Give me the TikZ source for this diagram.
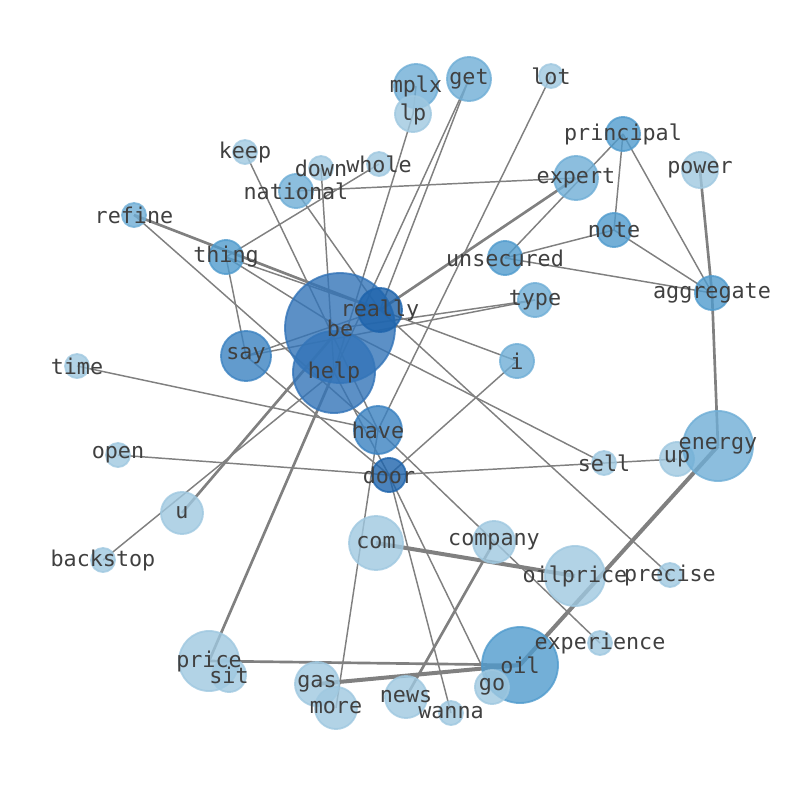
\documentclass[tikz,border=0pt]{standalone}
\usepackage{fontspec}
\setmonofont{DejaVu Sans Mono}

\definecolor{blueA}{RGB}{159,200,224}
\definecolor{blueB}{RGB}{111,174,214}
\definecolor{blueC}{RGB}{80,155,205}
\definecolor{blueD}{RGB}{59,130,193}
\definecolor{blueE}{RGB}{51,116,184}
\definecolor{blueF}{RGB}{30,100,172}

\begin{document}
\begin{tikzpicture}[x=0.75pt, y=-0.75pt,
  edge/.style={draw=gray, line width=1.1pt},
  heavy/.style={draw=gray, line width=2pt},
  heaviest/.style={draw=gray, line width=3pt},
  bubble/.style={circle, inner sep=0pt, minimum size=#1*1.5pt, line width=1.4pt, opacity=.8},
  word/.style={font=\ttfamily\fontsize{16.3}{18}\selectfont, text=black!75, inner sep=0pt}]

  % Canvas
  \useasboundingbox (0,0) rectangle (794,790);

  % Word list: name/x/y/radius/colour
  \def\wordlist{be/340/328/55/blueE, help/334/372/41/blueE, really/380/310/22/blueF,
    say/246/356/25/blueD, thing/226/257/17/blueC, refine/134/215/12/blueB,
    keep/245/152/12/blueA, down/321/168/12/blueA, whole/379/164/12/blueA,
    national/296/191/17/blueB, mplx/416/86/22/blueB, lp/413/114/18/blueA,
    get/469/79/22/blueB, lot/551/76/12/blueA, principal/623/134/17/blueC,
    power/700/170/18/blueA, expert/576/178/22/blueB, note/614/230/17/blueC,
    unsecured/505/258/17/blueC, type/535/300/17/blueB, aggregate/712/293/17/blueC,
    i/517/361/17/blueB, time/77/366/12/blueA, have/378/430/24/blueD,
    door/389/475/17/blueF, open/118/455/12/blueA, sell/604/463/12/blueA,
    up/677/459/17/blueA, energy/718/446/35/blueB, u/182/513/21/blueA,
    backstop/103/560/12/blueA, com/376/543/27/blueA, company/494/542/21/blueA,
    oilprice/575/576/30/blueA, precise/670/575/12/blueA, experience/600/643/12/blueA,
    oil/520/665/38/blueC, go/492/687/17/blueA, news/406/697/21/blueA,
    wanna/451/713/12/blueA, gas/317/684/22/blueA, more/336/708/21/blueA,
    price/209/661/30/blueA, sit/229/675/17/blueA}

  % Positions
  \foreach \n/\px/\py/\r/\c in \wordlist
    \coordinate (\n) at (\px,\py);

  % Links
  \foreach \a/\b in {mplx/lp, lp/help, get/help, get/really, lot/have, keep/have,
      down/help, whole/thing, national/expert, national/really, refine/have,
      thing/really, thing/be, thing/say, say/really, say/type, be/type,
      principal/unsecured, principal/note, principal/aggregate, note/unsecured,
      note/aggregate, unsecured/aggregate, door/up, i/door, i/really, be/sell,
      really/precise, have/experience, help/door, say/door, time/have, open/door,
      backstop/help, more/have, door/wanna, door/go}
    \draw[edge] (\a) -- (\b);
  \foreach \a/\b in {refine/really, really/expert, power/aggregate, aggregate/energy,
      u/be, price/help, price/oil, news/company}
    \draw[heavy] (\a) -- (\b);
  \foreach \a/\b in {com/oilprice, gas/oil, oil/energy}
    \draw[heaviest] (\a) -- (\b);

  % Bubbles
  \foreach \n/\px/\py/\r/\c in \wordlist
    \node[bubble=\r, fill=\c, draw=\c] (\n-c) at (\n) {};

  % Labels
  \foreach \n/\px/\py/\r/\c in \wordlist
    \node[word] (\n-t) at (\n) {\n};

\end{tikzpicture}
\end{document}
